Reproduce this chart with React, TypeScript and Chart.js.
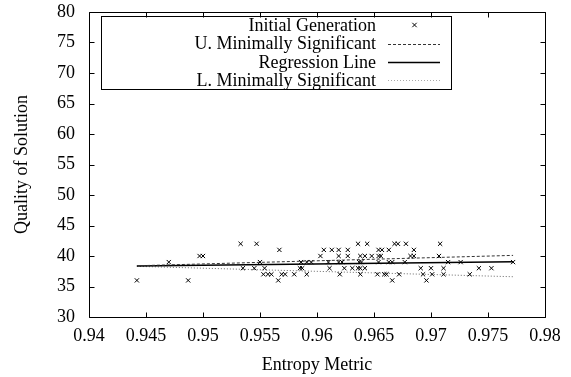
import React, { useEffect, useRef } from 'react';
import { Chart, registerables } from 'chart.js';

Chart.register(...registerables);

// ---- data ----
const entropyMetric = [
  0.9442, 0.947, 0.9487, 0.9497, 0.95, 0.9533, 0.9547, 0.9535, 0.9545, 0.955,
  0.9554, 0.9553, 0.9557, 0.9567, 0.956, 0.9566, 0.9569, 0.9572, 0.958, 0.9591,
  0.9586, 0.9591, 0.9595, 0.9585, 0.9587, 0.9603, 0.9606, 0.9613, 0.9619, 0.9627,
  0.9619, 0.9627, 0.961, 0.9619, 0.9622, 0.9611, 0.962, 0.9624, 0.9631, 0.9636,
  0.9638, 0.9642, 0.9636, 0.9644, 0.9638, 0.9642, 0.9648, 0.9654, 0.9656, 0.9637,
  0.9639, 0.9638, 0.9654, 0.9657, 0.9663, 0.9654, 0.9663, 0.9666, 0.9653, 0.9659,
  0.9661, 0.9666, 0.9668, 0.9671, 0.9678, 0.9677, 0.9672, 0.9708, 0.9685, 0.9682,
  0.9685, 0.9707, 0.9715, 0.9726, 0.9772, 0.9691, 0.97, 0.9711, 0.9742, 0.9753,
  0.9693, 0.9701, 0.9711, 0.9734, 0.9696,
];
const solutionQuality = [
  36, 39, 36, 40, 40, 42, 42, 38, 38, 39,
  38, 37, 37, 41, 37, 36, 37, 37, 37, 37,
  39, 39, 39, 38, 38, 40, 41, 41, 41, 41,
  40, 40, 39, 39, 39, 38, 37, 38, 38, 38,
  38, 38, 42, 42, 40, 40, 40, 40, 40, 39,
  39, 37, 41, 41, 41, 39, 39, 39, 37, 37,
  37, 36, 42, 42, 42, 39, 37, 42, 41, 40,
  40, 40, 39, 39, 39, 38, 38, 38, 38, 38,
  37, 37, 37, 37, 36,
];
const lineX = [0.9442, 0.9772];
const upperSignificant = [38.4, 40.1];
const regressionLine = [38.35, 39.05];
const lowerSignificant = [38.3, 36.6];

const xTickValues = [0.94, 0.945, 0.95, 0.955, 0.96, 0.965, 0.97, 0.975, 0.98];
const yTickValues = [30, 35, 40, 45, 50, 55, 60, 65, 70, 75, 80];

const seriesLabels = [
  'Initial Generation',
  'U. Minimally Significant',
  'Regression Line',
  'L. Minimally Significant',
];
const xTitle = 'Entropy Metric';
const yTitle = 'Quality of Solution';

const FONT = '"Liberation Serif", "DejaVu Serif", serif';

const framePlugin = {
  id: 'gnuplotFrame',
  afterDraw(chart: any) {
    const { ctx, chartArea, scales } = chart;
    const L = Math.round(chartArea.left) + 0.5;
    const R = Math.round(chartArea.right) + 0.5;
    const T = Math.round(chartArea.top) + 0.5;
    const B = Math.round(chartArea.bottom) + 0.5;
    const tl = 5;
    ctx.save();
    ctx.strokeStyle = '#000';
    ctx.lineWidth = 1;
    ctx.beginPath();
    ctx.rect(L, T, R - L, B - T);
    scales.x.ticks.forEach((t: any) => {
      const px = Math.round(scales.x.getPixelForValue(t.value)) + 0.5;
      ctx.moveTo(px, B); ctx.lineTo(px, B - tl);
      ctx.moveTo(px, T); ctx.lineTo(px, T + tl);
    });
    scales.y.ticks.forEach((t: any) => {
      const py = Math.round(scales.y.getPixelForValue(t.value)) + 0.5;
      ctx.moveTo(L, py); ctx.lineTo(L + tl, py);
      ctx.moveTo(R, py); ctx.lineTo(R - tl, py);
    });
    ctx.stroke();
    ctx.restore();
  },
};

const legendPlugin = {
  id: 'gnuplotLegend',
  afterDraw(chart: any) {
    const { ctx } = chart;
    const box = { x: 101, y: 16, w: 350, h: 73 };
    const textRight = 376;
    const s0 = 388;
    const s1 = 440;
    const rowY = [25, 43.5, 62, 80];
    ctx.save();
    ctx.strokeStyle = '#000';
    ctx.lineWidth = 1;
    ctx.strokeRect(box.x + 0.5, box.y + 0.5, box.w, box.h);
    ctx.font = `18px ${FONT}`;
    ctx.fillStyle = '#000';
    ctx.textAlign = 'right';
    ctx.textBaseline = 'middle';
    chart.data.datasets.forEach((ds: any, i: number) => {
      const y = rowY[i];
      ctx.fillText(ds.label, textRight, y + 1);
      if (i === 0) {
        const cx = (s0 + s1) / 2 + 0.5;
        const r = 2.2;
        ctx.beginPath();
        ctx.strokeStyle = '#000';
        ctx.lineWidth = 1;
        ctx.moveTo(cx - r, y - r); ctx.lineTo(cx + r, y + r);
        ctx.moveTo(cx + r, y - r); ctx.lineTo(cx - r, y + r);
        ctx.stroke();
      } else {
        ctx.beginPath();
        ctx.strokeStyle = ds.legendColor || ds.borderColor;
        ctx.lineWidth = ds.borderWidth;
        ctx.setLineDash(ds.borderDash || []);
        ctx.moveTo(s0, Math.round(y) + 0.5);
        ctx.lineTo(s1, Math.round(y) + 0.5);
        ctx.stroke();
        ctx.setLineDash([]);
      }
    });
    ctx.restore();
  },
};

export default function App() {
  const canvasRef = useRef<HTMLCanvasElement | null>(null);

  useEffect(() => {
    const canvas = canvasRef.current;
    if (!canvas) return;
    Chart.defaults.font.family = FONT;
    Chart.defaults.font.size = 18;
    Chart.defaults.color = '#000';

    const points = entropyMetric.map((x, i) => ({ x, y: solutionQuality[i] }));
    const mk = (vals: number[]) => lineX.map((x, i) => ({ x, y: vals[i] }));
    const f = { family: FONT, size: 18 };

    const chart = new Chart(canvas, {
      type: 'scatter',
      data: {
        datasets: [
          {
            label: seriesLabels[0],
            data: points,
            pointStyle: 'crossRot',
            pointRadius: 3,
            borderColor: '#000',
            backgroundColor: '#000',
            borderWidth: 1,
            showLine: false,
          } as any,
          {
            label: seriesLabels[1],
            data: mk(upperSignificant),
            showLine: true,
            pointRadius: 0,
            borderColor: '#333',
            borderWidth: 1,
            borderDash: [3, 2],
          } as any,
          {
            label: seriesLabels[2],
            data: mk(regressionLine),
            showLine: true,
            pointRadius: 0,
            borderColor: '#000',
            borderWidth: 1.5,
          } as any,
          {
            label: seriesLabels[3],
            data: mk(lowerSignificant),
            showLine: true,
            pointRadius: 0,
            borderColor: '#666',
            legendColor: '#aaa',
            borderWidth: 1,
            borderDash: [1, 2],
          } as any,
        ],
      },
      options: {
        responsive: false,
        animation: false,
        devicePixelRatio: 1,
        layout: { padding: { top: 12, right: 26, left: 0, bottom: 0 } },
        plugins: {
          legend: { display: false },
          tooltip: { enabled: false },
        },
        scales: {
          x: {
            type: 'linear',
            min: 0.94,
            max: 0.98,
            afterBuildTicks: (s: any) => {
              s.ticks = xTickValues.map((v) => ({ value: v }));
            },
            afterFit: (s: any) => {
              s.height = 60;
              s.paddingLeft = 0;
              s.paddingRight = 0;
            },
            grid: { display: false, drawTicks: false },
            border: { display: false },
            ticks: {
              padding: 8,
              maxRotation: 0,
              autoSkip: false,
              font: f,
              callback: (v: any) => String(v),
            },
            title: {
              display: true,
              text: xTitle,
              font: f,
              padding: { top: 0, bottom: 1 },
            },
          },
          y: {
            type: 'linear',
            min: 30,
            max: 80,
            afterBuildTicks: (s: any) => {
              s.ticks = yTickValues.map((v) => ({ value: v }));
            },
            afterFit: (s: any) => {
              s.width = 89;
              s.paddingTop = 0;
              s.paddingBottom = 0;
            },
            grid: { display: false, drawTicks: false },
            border: { display: false },
            ticks: {
              padding: 14,
              autoSkip: false,
              font: f,
              callback: (v: any) => String(v),
            },
            title: {
              display: true,
              text: yTitle,
              font: f,
              padding: { top: 11, bottom: 0 },
            },
          },
        },
      },
      plugins: [framePlugin, legendPlugin],
    });
    return () => chart.destroy();
  }, []);

  return (
    <div style={{ position: 'fixed', left: 0, top: 0, width: 571, height: 377, background: '#fff' }}>
      <canvas ref={canvasRef} width={571} height={377} style={{ width: 571, height: 377 }} />
    </div>
  );
}
